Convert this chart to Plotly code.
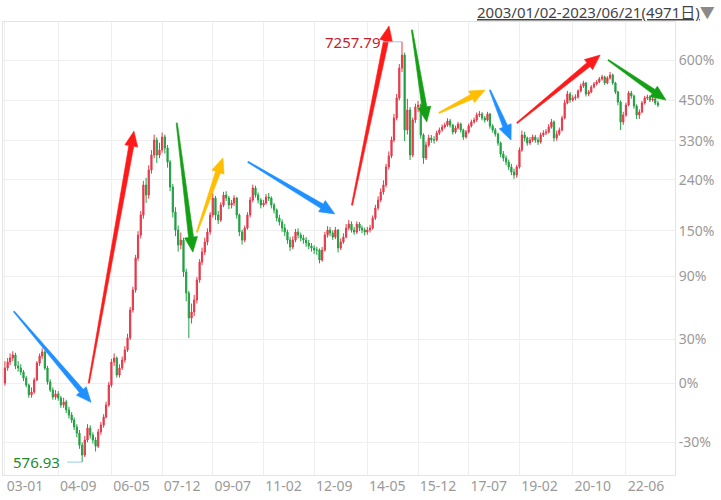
import numpy as np
import pandas as pd
import plotly.graph_objects as go

# ---------------- data (monthly candles) ----------------
BASE = 929.0            # index level that the right axis calls 0%
START_MONTH = "2003-01-01"

closes = [
    1017, 1054, 1080, 1100, 1030, 1017, 993, 957, 918, 865,
    880, 946, 1048, 1093, 1120, 1017, 935, 891, 854, 870,
    849, 814, 829, 790, 766, 743, 713, 687, 639, 602,
    659, 708, 679, 659, 635, 692, 721, 757, 814, 918,
    1054, 1080, 975, 1017, 1067, 1134, 1219, 1442, 1627, 1973,
    2265, 2556, 3063, 2883, 3352, 3669, 4016, 3669, 3781, 4090,
    3827, 3517, 3026, 2602, 2335, 2133, 2198, 1813, 1598, 1374,
    1425, 1532, 1728, 1926, 2045, 2172, 2307, 2556, 2831, 2556,
    2480, 2715, 2883, 2831, 2715, 2747, 2831, 2556, 2307, 2198,
    2363, 2556, 2797, 3008, 2883, 2797, 2715, 2747, 2848, 2831,
    2715, 2634, 2510, 2450, 2363, 2307, 2198, 2108, 2198, 2307,
    2265, 2225, 2198, 2159, 2121, 2095, 2070, 2070, 1949, 2070,
    2265, 2335, 2293, 2238, 2335, 2095, 2172, 2238, 2363, 2420,
    2335, 2307, 2420, 2363, 2335, 2307, 2335, 2363, 2510, 2666,
    2797, 2936, 3063, 3413, 3648, 4016, 4585, 5173, 6198, 6700,
    4265, 4812, 3669, 4530, 4900, 4959, 4139, 3603, 3897, 4065,
    4016, 4016, 4188, 4265, 4343, 4395, 4503, 4395, 4214, 4317,
    4421, 4265, 4090, 4214, 4370, 4476, 4530, 4669, 4696, 4585,
    4530, 4696, 4370, 4265, 4162, 3944, 3691, 3603, 3517, 3413,
    3312, 3252, 3413, 3781, 4139, 4065, 3944, 4016, 4090, 4016,
    3968, 4139, 4188, 4214, 4343, 4476, 4065, 4162, 4265, 4585,
    5019, 5299, 5111, 5173, 5205, 5397, 5561, 5663, 5299, 5364,
    5528, 5630, 5698, 5802, 5873, 5663, 5837, 5942, 5663, 5364,
    5050, 4476, 4669, 4959, 5331, 5237, 4931, 4669, 4754, 5019,
    5173, 5205, 5111, 5142, 5019, 4959,
]

highs = [
    1060, 1080, 1110, 1125, 1115, 1060, 1040, 1005, 970, 925,
    905, 960, 1060, 1110, 1145, 1130, 1030, 950, 905, 890,
    885, 860, 850, 840, 805, 780, 755, 725, 700, 650,
    675, 725, 720, 690, 670, 705, 735, 770, 830, 935,
    1075, 1110, 1090, 1040, 1090, 1160, 1250, 1470, 1660, 2010,
    2320, 2620, 3140, 3200, 3450, 3780, 4150, 4080, 3950, 4200,
    4150, 3900, 3560, 3080, 2680, 2400, 2300, 2230, 1850, 1620,
    1500, 1580, 1760, 1960, 2100, 2230, 2360, 2600, 2920, 2870,
    2620, 2760, 2940, 2950, 2870, 2800, 2880, 2850, 2580, 2340,
    2400, 2600, 2850, 3070, 3050, 2930, 2830, 2800, 2900, 2920,
    2860, 2750, 2660, 2560, 2490, 2420, 2340, 2240, 2250, 2350,
    2360, 2300, 2270, 2240, 2200, 2160, 2130, 2110, 2090, 2110,
    2310, 2390, 2380, 2330, 2380, 2350, 2220, 2290, 2420, 2480,
    2460, 2380, 2460, 2450, 2400, 2370, 2380, 2410, 2550, 2720,
    2860, 3000, 3150, 3480, 3750, 4100, 4700, 5300, 6350, 7257.79,
    6800, 5150, 4900, 4600, 5000, 5080, 5000, 4180, 3980, 4150,
    4140, 4110, 4250, 4330, 4410, 4460, 4580, 4560, 4430, 4380,
    4480, 4460, 4300, 4270, 4430, 4540, 4600, 4740, 4780, 4750,
    4640, 4760, 4730, 4420, 4320, 4200, 3980, 3760, 3660, 3570,
    3480, 3380, 3460, 3840, 4250, 4220, 4100, 4090, 4150, 4140,
    4080, 4200, 4260, 4290, 4420, 4560, 4520, 4250, 4330, 4650,
    5120, 5400, 5360, 5260, 5290, 5450, 5640, 5740, 5700, 5430,
    5590, 5700, 5760, 5870, 5950, 5920, 5900, 6050, 5990, 5700,
    5400, 5100, 4760, 5030, 5400, 5400, 5280, 4980, 4830, 5080,
    5240, 5280, 5260, 5210, 5190, 5080,
]

lows = [
    915, 1000, 1035, 1060, 1010, 995, 975, 940, 905, 850,
    850, 870, 940, 1030, 1075, 1005, 920, 880, 840, 840,
    835, 800, 800, 775, 750, 730, 700, 670, 625, 576.93,
    595, 650, 665, 645, 615, 628, 680, 710, 750, 805,
    905, 1030, 960, 960, 1005, 1050, 1120, 1205, 1420, 1600,
    1940, 2220, 2500, 2750, 2820, 3280, 3600, 3500, 3600, 3720,
    3700, 3400, 2950, 2520, 2250, 2050, 2080, 1760, 1520, 1219,
    1330, 1390, 1500, 1700, 1890, 2010, 2130, 2270, 2520, 2480,
    2420, 2450, 2680, 2780, 2650, 2660, 2700, 2500, 2250, 2140,
    2170, 2340, 2520, 2760, 2840, 2740, 2660, 2680, 2720, 2780,
    2660, 2580, 2460, 2400, 2310, 2250, 2150, 2060, 2080, 2170,
    2220, 2180, 2150, 2110, 2080, 2050, 2020, 2010, 1910, 1930,
    2050, 2230, 2250, 2200, 2210, 2040, 2070, 2150, 2220, 2330,
    2300, 2270, 2280, 2320, 2290, 2260, 2270, 2300, 2340, 2480,
    2630, 2760, 2890, 3020, 3360, 3600, 3960, 4520, 5100, 6050,
    3990, 4150, 3560, 3620, 4450, 4750, 4050, 3480, 3560, 3850,
    3950, 3930, 3980, 4140, 4220, 4300, 4350, 4330, 4150, 4170,
    4280, 4200, 4020, 4050, 4180, 4330, 4430, 4480, 4610, 4520,
    4460, 4490, 4300, 4200, 4100, 3880, 3620, 3530, 3450, 3350,
    3250, 3180, 3200, 3380, 3740, 3980, 3880, 3900, 3970, 3950,
    3900, 3930, 4090, 4140, 4180, 4300, 3980, 4000, 4120, 4230,
    4550, 4980, 5030, 5060, 5100, 5150, 5350, 5500, 5220, 5230,
    5320, 5480, 5580, 5650, 5740, 5600, 5620, 5780, 5600, 5300,
    4950, 4265, 4400, 4620, 4920, 5150, 4850, 4560, 4560, 4720,
    4970, 5110, 5050, 5060, 4960, 4900,
]

opens = [BASE] + closes[:-1]
months = pd.date_range(START_MONTH, periods=len(closes), freq="MS")

tick_labels = ["03-01", "04-09", "06-05", "07-12", "09-07", "11-02", "12-09",
               "14-05", "15-12", "17-07", "19-02", "20-10", "22-06"]
tick_dates = [f"20{t[:2]}-{t[3:]}-01" for t in tick_labels]

pct_ticks = [-30, 0, 30, 90, 150, 240, 330, 450, 600]

# trend arrows: (tail date, tail %, head date, head %, colour)
arrows = [
    ("2003-04-13", 54, "2005-09-10", -11, "#1E90FF"),
    ("2005-08-16", 0, "2007-01-13", 356, "#FF1A1A"),
    ("2008-05-16", 379, "2008-11-16", 120, "#14A014"),
    ("2009-01-01", 148, "2009-10-25", 288, "#FFBE00"),
    ("2010-08-07", 279, "2013-04-25", 177, "#1E90FF"),
    ("2013-11-07", 192, "2015-01-04", 759, "#FF1A1A"),
    ("2015-09-22", 739, "2016-03-10", 382, "#14A014"),
    ("2016-07-28", 409, "2018-01-04", 484, "#FFBE00"),
    ("2018-03-01", 484, "2018-10-28", 332, "#1E90FF"),
    ("2019-01-04", 379, "2021-08-10", 621, "#FF1A1A"),
    ("2021-11-10", 600, "2023-09-01", 450, "#14A014"),
]

HIGH_POINT = ("2015-06-01", 7257.79)
LOW_POINT = ("2005-06-01", 576.93)
PERIOD_TEXT = "2003/01/02-2023/06/21(4971日)"

UP = "#E6394A"
DOWN = "#22A043"
FONT = "Noto Sans, Noto Sans CJK SC, sans-serif"

# ---------------- geometry of the plot area ----------------
W, H = 721, 500
M_L, M_R, M_T, M_B = 3, 46, 22, 25
X_RANGE = ["2002-12-10", "2023-12-13"]
Y_RANGE = [np.log10(533.8), np.log10(8177)]
PX_L, PX_R = M_L, W - M_R
PX_T, PX_B = M_T, H - M_B
T0, T1 = pd.Timestamp(X_RANGE[0]).value, pd.Timestamp(X_RANGE[1]).value


def lvl(p):
    return BASE * (1 + p / 100.0)


def to_px(date, price):
    t = pd.Timestamp(date).value
    px = PX_L + (t - T0) / (T1 - T0) * (PX_R - PX_L)
    py = PX_B - (np.log10(price) - Y_RANGE[0]) / (Y_RANGE[1] - Y_RANGE[0]) * (PX_B - PX_T)
    return np.array([px, py])


def from_px(p):
    t = T0 + (p[0] - PX_L) / (PX_R - PX_L) * (T1 - T0)
    lv = Y_RANGE[0] + (PX_B - p[1]) / (PX_B - PX_T) * (Y_RANGE[1] - Y_RANGE[0])
    return pd.Timestamp(int(t)), 10 ** lv


def arrow_polygon(tail, head, w_tail=1.2, w_neck=5.0, w_head=13.0, l_head=15.0):
    d = head - tail
    u = d / np.linalg.norm(d)
    n = np.array([-u[1], u[0]])
    neck = head - u * l_head
    pts = [tail + n * w_tail / 2, neck + n * w_neck / 2, neck + n * w_head / 2, head,
           neck - n * w_head / 2, neck - n * w_neck / 2, tail - n * w_tail / 2]
    conv = [from_px(p) for p in pts]
    conv.append(conv[0])
    return [c[0] for c in conv], [c[1] for c in conv]


fig = go.Figure()
fig.add_trace(go.Candlestick(
    x=months, open=opens, high=highs, low=lows, close=closes,
    increasing=dict(line=dict(color=UP, width=1), fillcolor=UP),
    decreasing=dict(line=dict(color=DOWN, width=1), fillcolor=DOWN),
    whiskerwidth=0, showlegend=False, hoverinfo="skip",
))

for t0, p0, t1, p1, col in arrows:
    xs, ys = arrow_polygon(to_px(t0, lvl(p0)), to_px(t1, lvl(p1)))
    fig.add_trace(go.Scatter(
        x=xs, y=ys, mode="lines", fill="toself", fillcolor=col,
        line=dict(color=col, width=0.6), showlegend=False, hoverinfo="skip",
    ))

annotations = []
annotations.append(dict(
    x=HIGH_POINT[0], y=np.log10(HIGH_POINT[1]), xref="x", yref="y",
    text=f"{HIGH_POINT[1]:.2f}", showarrow=True, arrowhead=0, arrowwidth=1,
    arrowcolor="#9CC8E8", ax=-19, ay=0, xanchor="right",
    font=dict(family=FONT, size=15, color="#C8202A"),
))
annotations.append(dict(
    x=LOW_POINT[0], y=np.log10(LOW_POINT[1]), xref="x", yref="y",
    text=f"{LOW_POINT[1]:.2f}", showarrow=True, arrowhead=0, arrowwidth=1,
    arrowcolor="#9CC8E8", ax=-20, ay=0, xanchor="right", startstandoff=5,
    font=dict(family=FONT, size=15, color="#1E8A30"),
))
annotations.append(dict(
    x=1.063, y=1.022, xref="paper", yref="paper", xanchor="right", yanchor="middle",
    text=f"<u>{PERIOD_TEXT}</u><span style='color:#8a8a8a'>▼</span>",
    showarrow=False, font=dict(family=FONT, size=15, color="#444444"),
))

fig.update_layout(
    width=W, height=H,
    margin=dict(l=M_L, r=M_R, t=M_T, b=M_B),
    paper_bgcolor="white", plot_bgcolor="white",
    annotations=annotations,
    xaxis=dict(
        type="date", range=X_RANGE,
        tickvals=tick_dates, ticktext=tick_labels,
        showgrid=True, gridcolor="#efefef", gridwidth=1,
        showline=True, linecolor="#e4e4e4", mirror=True,
        ticks="", ticklabelshift=20, ticklabelstandoff=-2,
        tickfont=dict(family=FONT, size=14, color="#9a9a9a"),
        rangeslider=dict(visible=False), zeroline=False,
    ),
    yaxis=dict(
        type="log", side="right", range=Y_RANGE,
        tickvals=[lvl(p) for p in pct_ticks],
        ticktext=[f"{p}%" for p in pct_ticks],
        showgrid=True, gridcolor="#efefef", gridwidth=1,
        showline=True, linecolor="#e4e4e4", mirror=True,
        ticks="", tickfont=dict(family=FONT, size=14, color="#9a9a9a"),
        zeroline=False,
    ),
)

fig.write_html("out.html", config={"displayModeBar": False},
               post_script="document.body.style.margin='0px';")
